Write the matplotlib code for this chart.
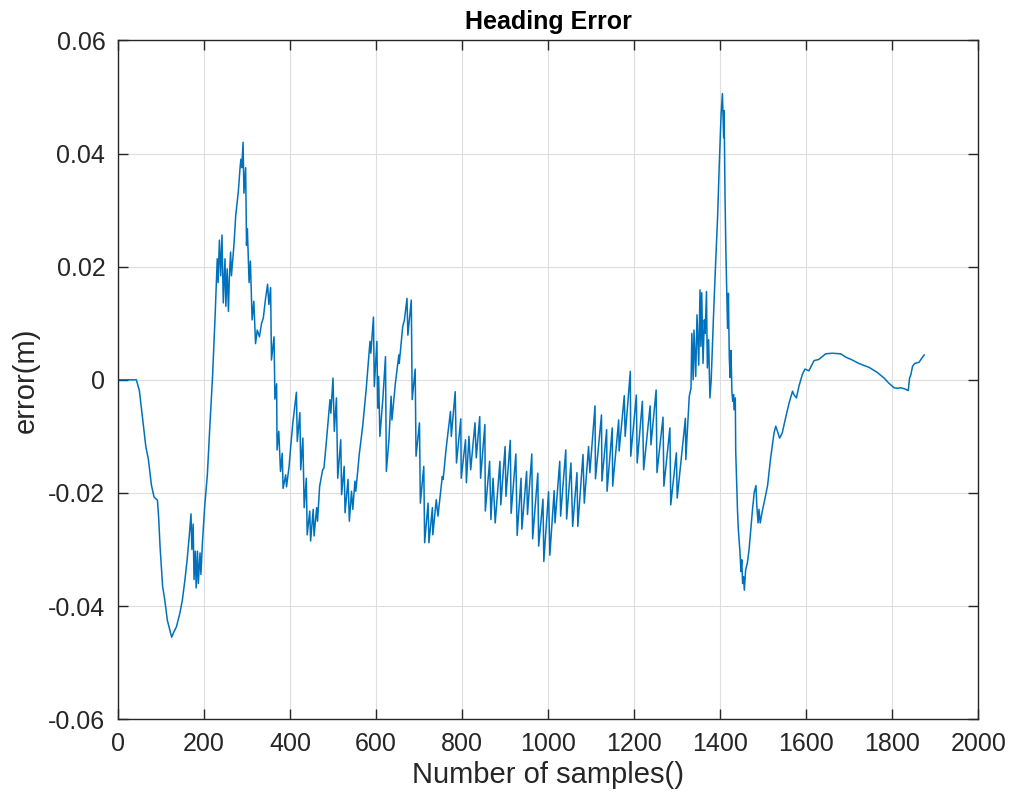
import matplotlib.pyplot as plt

# heading error, in pieces along the sample axis
seg1_x = [0, 43, 50, 59, 65, 71, 78, 84, 92, 95, 98, 101, 104, 109, 115, 119, 125, 130, 136,
          144, 150, 156, 161, 166, 170, 172, 175, 177, 180, 182, 185, 187, 191, 193, 197,
          202, 208, 214, 220, 226, 231, 233, 236, 239, 242, 245, 249, 251, 254, 257, 259,
          262, 264, 270, 274, 280, 284, 286, 288, 291, 293, 297, 299, 301, 305, 308, 312,
          316, 320, 324, 329, 334, 338, 343, 348, 351, 355, 357, 363, 365, 369, 370, 374,
          378, 382, 384, 390, 392]
seg1_y = [0, 0, -0.0019, -0.0079, -0.0118, -0.0141, -0.0186, -0.0207, -0.0213, -0.0246,
          -0.0294, -0.033, -0.0365, -0.0389, -0.0425, -0.0437, -0.0455, -0.0446, -0.0437,
          -0.0413, -0.0389, -0.0353, -0.0318, -0.0276, -0.0237, -0.03, -0.0255, -0.0353,
          -0.0303, -0.0368, -0.0303, -0.036, -0.0306, -0.0344, -0.0282,
          -0.0222, -0.0168, -0.0079, 0.0005, 0.0112, 0.0214, 0.0172, 0.0247, 0.0184, 0.0256,
          0.0136, 0.0214, 0.013, 0.0196, 0.0121, 0.0178,
          0.0226, 0.0184, 0.0241, 0.0291, 0.0333, 0.0375, 0.039, 0.0375, 0.042, 0.033,
          0.0375, 0.0238, 0.0267, 0.0172, 0.021, 0.0106,
          0.0139, 0.0064, 0.0088, 0.0076, 0.01, 0.0109, 0.0142, 0.0169, 0.0133, 0.0163,
          0.0035, 0.0076, -0.0034, -0.0007, -0.0124, -0.0091,
          -0.0162, -0.013, -0.0192, -0.0168, -0.0189]

seg2_x = [398, 402, 407, 415, 417, 423, 425, 430, 433, 438, 440, 446, 448, 454, 456, 462,
          464, 469, 476, 479, 485, 493, 495, 500, 503, 508, 511, 518, 520, 526, 528, 535,
          538, 543, 546, 551, 553, 561, 569, 577, 586, 588, 594, 596, 602, 604, 606, 609,
          616, 622, 624, 630, 635, 637, 645, 653, 654, 662, 666, 672, 674, 679, 682, 684,
          691, 693, 701, 703, 711, 713, 721, 723, 731, 732, 740, 744, 754, 756, 763, 773,
          775, 784, 787, 797, 798, 808, 810]
seg2_y = [-0.0153, -0.0115, -0.0074, -0.0022, -0.0109, -0.0058, -0.0159, -0.0103, -0.0226,
          -0.0174, -0.0274, -0.0232, -0.0285, -0.0229, -0.0276, -0.0226,
          -0.025, -0.0188, -0.0159, -0.0156, -0.0106, -0.0035, -0.0059, 0.0003, -0.0091,
          -0.0032, -0.0174, -0.0106, -0.0203, -0.0153, -0.0235, -0.0176,
          -0.025, -0.0197, -0.0229, -0.0179, -0.0197, -0.0132, -0.0082, -0.0018, 0.0068,
          0.0047, 0.0111, -0.0012, 0.0068, -0.005, 0.0006, -0.01,
          -0.0032, 0.0041, -0.0162, -0.0106, -0.0029, -0.0071, -0.0006, 0.0044, 0.0029,
          0.0094, 0.0106, 0.0144, 0.0079, 0.0118, 0.0141, -0.0035,
          0.0019, -0.0135, -0.0076, -0.0218, -0.0153, -0.0288, -0.0218, -0.0288, -0.0226,
          -0.0274, -0.0212, -0.0241, -0.0171, -0.0176, -0.0121, -0.0056,
          -0.01, -0.0021, -0.0147, -0.0069, -0.0174, -0.0106, -0.0182]

seg3_x = [816, 820, 830, 833, 841, 843, 853, 854, 864, 867, 872, 877, 888, 890, 900, 902,
          912, 914, 925, 928, 937, 939, 950, 952, 962, 964, 976, 978, 988, 990, 1001, 1004,
          1014, 1016, 1027, 1029, 1041, 1043, 1053, 1057, 1067, 1069, 1081, 1084, 1094,
          1097, 1109, 1110, 1124, 1125, 1136, 1137, 1149, 1150, 1164, 1165, 1177, 1179,
          1191, 1192, 1205, 1207, 1219, 1222, 1237, 1239, 1251, 1253, 1267, 1269, 1283,
          1285, 1298, 1300, 1319, 1320, 1328, 1332, 1334, 1337, 1339, 1343, 1346, 1350,
          1353, 1355, 1357, 1360, 1363, 1365, 1368, 1370, 1373, 1376, 1379]
seg3_y = [-0.01, -0.0159, -0.0076, -0.0138, -0.0065, -0.0174, -0.0079, -0.0232, -0.0144,
          -0.0247, -0.0174, -0.0253, -0.0144, -0.0221, -0.0118, -0.0206,
          -0.0107, -0.0236, -0.0131, -0.0275, -0.0174, -0.0264, -0.0162, -0.0238, -0.0131,
          -0.0281, -0.0165, -0.0294, -0.0211, -0.0321, -0.0198, -0.031,
          -0.0196, -0.0253, -0.0144, -0.0241, -0.0124, -0.0246, -0.0147, -0.0259, -0.0164,
          -0.0259, -0.0132, -0.0218, -0.0118,
          -0.0164, -0.0046, -0.0175, -0.0062, -0.0179, -0.0088, -0.0197, -0.0085, -0.0188,
          -0.0071, -0.0126, -0.0028, -0.01,
          0.0015, -0.0135, -0.0027, -0.0147, -0.0038, -0.0159, -0.0046, -0.0115, -0.0018,
          -0.0164, -0.0066, -0.0188, -0.0085,
          -0.0221, -0.0129, -0.0209, -0.0068, -0.0141, -0.0029, -0.0015, 0.0082, 0.0, 0.0088,
          0.0006, 0.0115, 0.0026,
          0.0159, 0.0059, 0.0154, 0.0029, 0.0106, 0.0082, 0.0156, 0.0021, 0.0071, -0.0032,
          0.0]

seg4_x = [1384, 1388, 1394, 1398, 1402, 1405, 1408, 1409, 1411, 1413, 1415, 1417, 1419,
          1421, 1423, 1425, 1427, 1429, 1431, 1432, 1435, 1436, 1440, 1442, 1446, 1448,
          1450, 1452, 1454, 1456, 1459, 1463, 1467, 1471, 1475, 1479, 1483, 1485, 1488,
          1490, 1493, 1497, 1502, 1510, 1517, 1525, 1529, 1533, 1538, 1544, 1552, 1560,
          1568, 1571, 1577, 1583, 1591, 1597, 1606, 1618]
seg4_y = [0.0106, 0.0183, 0.0291, 0.0386, 0.047, 0.0506, 0.0428, 0.0476, 0.0333, 0.0231,
          0.0159, 0.0091, 0.0153,
          0.004, 0.0004, 0.0052, -0.002, -0.0038, -0.0026, -0.0053, -0.0032, -0.0127,
          -0.0229, -0.0264, -0.0306, -0.0339,
          -0.0318, -0.036, -0.0348, -0.0372, -0.0336, -0.0324, -0.03, -0.0264, -0.0229,
          -0.0199, -0.0187, -0.0223, -0.0253,
          -0.0229, -0.0253, -0.0235, -0.0217, -0.0187, -0.0139, -0.0094, -0.0082, -0.0091,
          -0.0103, -0.0094, -0.0067, -0.0041,
          -0.002, -0.0026, -0.0032, -0.0011, 0.001, 0.0019, 0.0016, 0.0034]

seg5_x = [1629, 1645, 1660, 1680, 1692, 1707, 1722, 1746, 1765, 1781, 1792, 1804, 1812,
          1819, 1829, 1837, 1840, 1843, 1847, 1852, 1862, 1870, 1874]
seg5_y = [0.0036, 0.0046, 0.0047, 0.0046, 0.004, 0.0035, 0.0029, 0.0022, 0.0013, 0.0003,
          -0.0006, -0.0014, -0.0015, -0.0014, -0.0016, -0.0019, 0.0003, 0.0009, 0.0024,
          0.0029, 0.0031, 0.004, 0.0044]

samples = seg1_x + seg2_x + seg3_x + seg4_x + seg5_x
error = seg1_y + seg2_y + seg3_y + seg4_y + seg5_y

plt.rcParams['font.family'] = ['Liberation Sans', 'DejaVu Sans']
fig = plt.figure(figsize=(10.16, 8.09), dpi=100)
ax = fig.add_axes([0.116, 0.111, 0.847, 0.839])

ax.plot(samples, error, color='#0072BD', linewidth=1.1)

ax.set_xlim(0, 2000)
ax.set_ylim(-0.06, 0.06)
ax.set_xticks(range(0, 2001, 200))
ax.set_yticks([-0.06, -0.04, -0.02, 0, 0.02, 0.04, 0.06])
ax.set_yticklabels(['-0.06', '-0.04', '-0.02', '0', '0.02', '0.04', '0.06'])
ax.grid(True, color='#dedede', linewidth=0.8)
ax.set_axisbelow(True)
ax.tick_params(direction='in', top=True, right=True, length=7, width=1,
               labelsize=18, colors='#262626')
ax.tick_params(axis='x', pad=9)
ax.tick_params(axis='y', pad=9)
for s in ax.spines.values():
    s.set_color('#262626')
    s.set_linewidth(1)

ax.set_title('Heading Error', fontsize=18, fontweight='bold', color='black', pad=8)
ax.set_xlabel('Number of samples()', fontsize=21, color='#262626', labelpad=4)
ax.set_ylabel('error(m)', fontsize=21, color='#262626', labelpad=6)

plt.savefig('out.png')
